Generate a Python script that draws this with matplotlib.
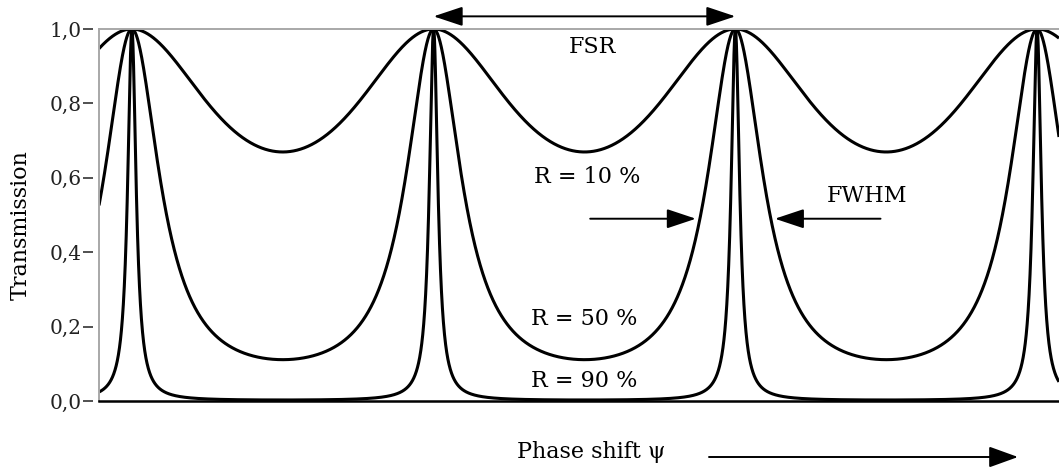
import numpy as np
import matplotlib
matplotlib.use("Agg")
import matplotlib.pyplot as plt

# Mirror reflectivities of the three Fabry-Perot curves
reflectivities = [0.10, 0.50, 0.90]
curve_labels = ["R = 10 %", "R = 50 %", "R = 90 %"]

# Y-axis ticks (decimal comma)
y_ticks = [0.0, 0.2, 0.4, 0.6, 0.8, 1.0]
y_tick_labels = ["0,0", "0,2", "0,4", "0,6", "0,8", "1,0"]

plt.rcParams["font.family"] = ["DejaVu Serif"]

W, H, DPI = 1059, 469, 100
fig = plt.figure(figsize=(W / DPI, H / DPI), dpi=DPI)
ax = fig.add_axes([99 / W, (H - 401) / H, 1 - 99 / W, 372 / H])

two_pi = 2 * np.pi
x_min, x_max = -0.109 * two_pi, 3.0726 * two_pi
psi = np.linspace(x_min, x_max, 6000)


def airy(psi, R):
    """Transmission of an ideal Fabry-Perot etalon."""
    F = 4 * R / (1 - R) ** 2
    return 1.0 / (1.0 + F * np.sin(psi / 2) ** 2)


for R in reflectivities:
    ax.plot(psi, airy(psi, R), color="black", lw=2.2, solid_capstyle="butt")

ax.set_xlim(x_min, x_max)
ax.set_ylim(0, 1.0)

# Frame: black baseline, grey top line and grey left line; ticks detached
for side in ("right",):
    ax.spines[side].set_visible(False)
ax.spines["bottom"].set_color("black")
ax.spines["bottom"].set_linewidth(1.8)
ax.spines["top"].set_color("#a8a8a8")
ax.spines["top"].set_linewidth(1.4)
ax.spines["left"].set_position(("outward", 4.0))
ax.spines["left"].set_visible(False)
ax.axvline(x_min, color="#a8a8a8", lw=1.4, clip_on=False)

ax.set_xticks([])
ax.set_yticks(y_ticks)
ax.set_yticklabels(y_tick_labels)
ax.tick_params(axis="y", direction="out", length=7.2, width=1.4,
               color="#505050", pad=1.0, labelsize=14.5, labelcolor="#222222")

fig.text(21 / W, 1 - 225 / H, "Transmission", rotation=90,
         ha="center", va="center", fontsize=16)

# Curve labels
pi = np.pi
txt = dict(ha="center", va="baseline", fontsize=16, color="black")
ax.text(3 * pi + 0.06, 0.586, curve_labels[0], **txt)
ax.text(3 * pi, 0.204, curve_labels[1], **txt)
ax.text(3 * pi, 0.038, curve_labels[2], **txt)

# Free spectral range arrow between two neighbouring maxima
arrow_kw = dict(lw=1.4, color="black", shrinkA=0, shrinkB=0)
ax.annotate("", xy=(4 * pi, 1.034), xytext=(2 * pi, 1.034),
            arrowprops=dict(arrowstyle="<|-|>,head_length=18,head_width=6",
                            mutation_scale=1, **arrow_kw),
            annotation_clip=False)
ax.text(3 * pi + 0.17, 0.935, "FSR", **txt)

# FWHM arrows pointing at the half-maximum points of the R = 50 % curve
F50 = 4 * reflectivities[1] / (1 - reflectivities[1]) ** 2
half = 2 * np.arcsin(1 / np.sqrt(F50))
gap, tail = 0.1, 2.2
fw_y = 0.49
left_tip = 4 * pi - half - gap
right_tip = 4 * pi + half + gap
ax.annotate("", xy=(left_tip, fw_y), xytext=(left_tip - tail, fw_y),
            arrowprops=dict(arrowstyle="-|>,head_length=18,head_width=6",
                            mutation_scale=1, **arrow_kw))
ax.annotate("", xy=(right_tip, fw_y), xytext=(right_tip + tail, fw_y),
            arrowprops=dict(arrowstyle="-|>,head_length=18,head_width=6",
                            mutation_scale=1, **arrow_kw))
ax.text(4 * pi + 2.74, 0.535, "FWHM", **txt)

# Horizontal axis caption with direction arrow
fig.text(591 / W, 11 / H, "Phase shift ψ", ha="center", va="baseline",
         fontsize=16)
fig.add_artist(matplotlib.patches.FancyArrowPatch(
    (709 / W, 12 / H), (1018 / W, 12 / H), transform=fig.transFigure,
    arrowstyle="-|>,head_length=18,head_width=6.5", mutation_scale=1,
    lw=1.4, color="black", shrinkA=0, shrinkB=0))

fig.savefig("out.png", dpi=DPI)
